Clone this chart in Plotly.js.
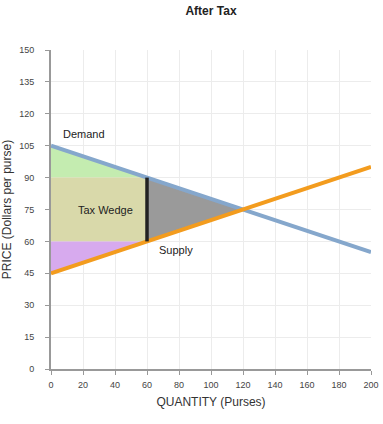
<!DOCTYPE html>
<html><head><meta charset="utf-8">
<script src="https://cdn.plot.ly/plotly-3.0.1.min.js"></script>
<style>html,body{margin:0;padding:0;background:#fff}</style>
</head><body>
<div id="chart" style="width:383px;height:424px"></div>
<script>
var demandQ = [0, 200];
var demandP = [105, 55];
var supplyQ = [0, 200];
var supplyP = [45, 95];
var csQ = [0, 60, 0];
var csP = [105, 90, 90];
var taxQ = [0, 60, 60, 0];
var taxP = [90, 90, 60, 60];
var psQ = [0, 60, 0];
var psP = [60, 60, 45];
var dwlQ = [60, 120, 60];
var dwlP = [90, 75, 60];
var wedgeQ = [60, 60];
var wedgeP = [60, 90];
var labels = [
  {text: 'Demand', q: 6, p: 110.5, anchor: 'left'},
  {text: 'Tax Wedge', q: 34, p: 75, anchor: 'center'},
  {text: 'Supply', q: 66, p: 56, anchor: 'left'}
];

function area(x, y, color) {
  return {x: x, y: y, type: 'scatter', mode: 'lines', fill: 'toself',
    fillcolor: color, line: {width: 0, color: color}, hoverinfo: 'skip', showlegend: false};
}
var data = [
  area(csQ, csP, '#c4ecb0'),
  area(taxQ, taxP, '#d9d9aa'),
  area(psQ, psP, '#d7aaee'),
  area(dwlQ, dwlP, '#9a9a9a'),
  {x: demandQ, y: demandP, type: 'scatter', mode: 'lines', line: {color: '#85a7cc', width: 4}, showlegend: false},
  {x: supplyQ, y: supplyP, type: 'scatter', mode: 'lines', line: {color: '#f39c1e', width: 4}, showlegend: false},
  {x: wedgeQ, y: wedgeP, type: 'scatter', mode: 'lines', line: {color: '#222222', width: 3.5}, showlegend: false}
];
var layout = {
  width: 383, height: 424,
  margin: {l: 51, r: 12, t: 50, b: 55},
  paper_bgcolor: '#fff', plot_bgcolor: '#fff',
  font: {family: 'Liberation Sans, Arial, sans-serif', color: '#333'},
  title: {text: '<b>After Tax</b>', x: 0.5, xref: 'paper', y: 0.985, yanchor: 'top', font: {size: 12, color: '#222'}},
  xaxis: {range: [0, 200], dtick: 20, tick0: 0, showgrid: true, gridcolor: '#ececec', zeroline: false,
    showline: true, linecolor: '#999', linewidth: 2, ticks: 'outside', ticklen: 4, tickcolor: '#999',
    tickfont: {size: 9, color: '#444'}, ticklabelstandoff: 2,
    title: {text: 'QUANTITY (Purses)', font: {size: 12, color: '#333'}, standoff: 9}},
  yaxis: {range: [0, 150], dtick: 15, tick0: 0, showgrid: true, gridcolor: '#ececec', zeroline: false,
    showline: true, linecolor: '#999', linewidth: 2, ticks: 'outside', ticklen: 4, tickcolor: '#999',
    tickfont: {size: 9, color: '#444'}, ticklabelstandoff: 9,
    title: {text: 'PRICE (Dollars per purse)', font: {size: 12, color: '#333'}, standoff: 6}},
  annotations: labels.map(function(l){ return {x: l.q, y: l.p, xref: 'x', yref: 'y', text: l.text,
    showarrow: false, xanchor: l.anchor, yanchor: 'middle', font: {size: 11, color: '#222'}}; })
};
Plotly.newPlot('chart', data, layout, {displayModeBar: false, staticPlot: true});
</script>
</body></html>
